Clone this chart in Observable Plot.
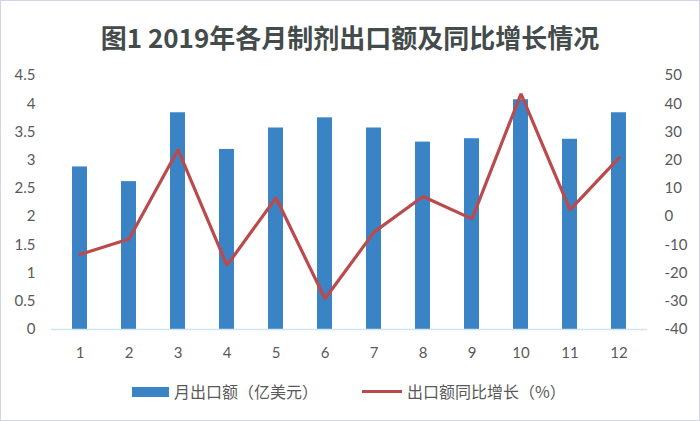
<!DOCTYPE html>
<html>
<head>
<meta charset="utf-8">
<script src="https://cdn.jsdelivr.net/npm/d3@7"></script>
<script src="https://cdn.jsdelivr.net/npm/@observablehq/plot@0.6"></script>
<style>
  html, body { margin: 0; padding: 0; background: #fff; }
  #wrap { position: relative; width: 700px; height: 421px; overflow: hidden; background: #fff;
          font-family: Lato, "Noto Sans CJK SC", sans-serif; }
  #frame { position: absolute; left: 0; top: 0; width: 698px; height: 419px; border: 1px solid #d4d4e6; pointer-events: none; }
  #title { position: absolute; left: 0; top: 0; width: 700px; height: 58px; text-align: center;
           font-family: "Noto Sans CJK SC", sans-serif; font-weight: bold; font-size: 26px; line-height: 74px; color: #434b4b; }
  #chart { position: absolute; left: 0; top: 58px; }
  .leg { position: absolute; font-family: "Noto Sans CJK SC", sans-serif; font-size: 16px; color: #595959; line-height: 20px; }
</style>
</head>
<body>
<div id="wrap">
  <div id="title">图1 2019年各月制剂出口额及同比增长情况</div>
  <div id="chart"></div>
  <div id="legend"></div>
  <div id="frame"></div>
</div>
<script>
const months = [1, 2, 3, 4, 5, 6, 7, 8, 9, 10, 11, 12];
const exportValue = [2.88, 2.62, 3.84, 3.19, 3.57, 3.75, 3.57, 3.32, 3.38, 4.07, 3.37, 3.84];
const yoyGrowth = [-13.4, -7.9, 23.7, -17.3, 6.7, -29.1, -5.5, 7.1, -0.8, 43.5, 2.4, 20.8];
const leftTicks = [0, 0.5, 1, 1.5, 2, 2.5, 3, 3.5, 4, 4.5];
const rightTicks = [-40, -30, -20, -10, 0, 10, 20, 30, 40, 50];
const seriesNames = ["月出口额（亿美元）", "出口额同比增长（%）"];

const barColor = "#3a84c6";
const lineColor = "#bb4a4d";

// map right-axis values onto the left scale domain [0, 4.5] <-> [-40, 50]
const toLeft = v => (v + 40) / 20;

const data = months.map((m, i) => ({month: m, value: exportValue[i], growth: yoyGrowth[i]}));

const plot = Plot.plot({
  width: 700,
  height: 312,
  marginTop: 17,
  marginBottom: 41,
  marginLeft: 51,
  marginRight: 53,
  style: {fontFamily: "Lato, 'Noto Sans CJK SC', sans-serif", fontSize: "15px", color: "#595959", background: "transparent"},
  x: {type: "band", domain: months, paddingInner: 0.7, paddingOuter: 0.35, axis: null},
  y: {domain: [0, 4.5], axis: null},
  marks: [
    Plot.barY(data, {x: "month", y: "value", fill: barColor}),
    Plot.ruleY([0], {stroke: "#cfe6ee", strokeWidth: 1.5}),
    Plot.line(data, {x: "month", y: d => toLeft(d.growth), stroke: lineColor, strokeWidth: 3.2, strokeLinejoin: "miter"}),
    Plot.axisX({tickSize: 0, tickPadding: 18, label: null, tickFormat: d => String(d)}),
    Plot.axisY(leftTicks, {anchor: "left", tickSize: 0, tickPadding: 16, label: null, tickFormat: d => String(d)}),
    Plot.axisY(rightTicks.map(toLeft), {anchor: "right", tickSize: 0, tickPadding: 17, label: null, tickFormat: d => String(Math.round(d * 20 - 40))})
  ]
});
document.getElementById("chart").appendChild(plot);

const legend = document.getElementById("legend");
legend.innerHTML = `
  <div style="position:absolute;left:132px;top:387px;width:37px;height:10px;background:${barColor};"></div>
  <div class="leg" style="left:174px;top:381px;">${seriesNames[0]}</div>
  <div style="position:absolute;left:362px;top:390px;width:40px;height:3px;background:${lineColor};"></div>
  <div class="leg" style="left:407px;top:381px;">${seriesNames[1]}</div>
`;
</script>
</body>
</html>
